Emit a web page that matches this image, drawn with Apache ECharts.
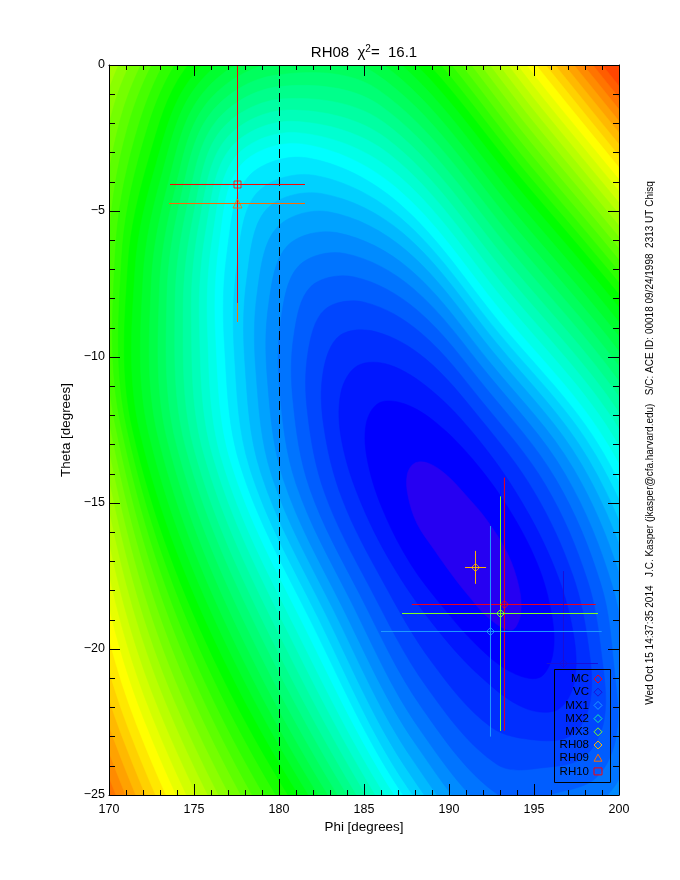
<!DOCTYPE html>
<html>
<head>
<meta charset="utf-8">
<title>RH08 chi2</title>
<script src="https://cdn.jsdelivr.net/npm/echarts@6/dist/echarts.min.js"></script>
<style>
  html, body { margin: 0; padding: 0; background: #fff; }
  #chart { width: 680px; height: 880px; }
</style>
</head>
<body>
<div id="chart"></div>
<script>
// fit estimates, degrees
var names    = ['MC', 'VC', 'MX1', 'MX2', 'MX3', 'RH08', 'RH09', 'RH10'];
var phi      = [193.26, 196.735, 192.44, 193.03, 193.03, 191.56, 177.559, 177.559];
var theta    = [-18.476, -20.497, -19.4, -18.784, -18.784, -17.209, -4.743, -4.092];
var phiLo    = [187.81, 195.75, 186.0, 187.24, 187.24, 190.94, 173.53, 173.59];
var phiHi    = [198.63, 198.76, 198.98, 198.76, 198.76, 192.18, 181.53, 181.53];
var thetaLo  = [-22.8, -20.65, -23.0, -22.8, -22.8, -17.77, -8.8, -8.15];
var thetaHi  = [-14.13, -17.33, -15.79, -14.78, -14.78, -16.64, -0.68, -0.03];
var colors   = ['#f00018', '#1a10d8', '#1f9cff', '#10eeb0', '#80ff20', '#ffb000', '#ff6a00', '#ff0000'];
var symbols  = ['diamond', 'diamond', 'diamond', 'diamond', 'diamond', 'diamond', 'triangle', 'rect'];

var aberrationPhi = [180.03, 180.03];
var aberrationTheta = [0, -25];

// chi^2 surface: contour levels read along 16 spokes round the long tilted valley.
var centerPhi = 190.47;
var centerTheta = -16.16;
var spokePhi   = [0.0296, 0.0345, 0.0342, 0.0286, 0.0187, 0.0059, -0.0077, -0.0202, -0.0296, -0.0345, -0.0342, -0.0286, -0.0187, -0.0059, 0.0077, 0.0202];
var spokeTheta = [-0.02959, -0.02491, -0.01644, -0.00548, 0.00634, 0.01718, 0.0254, 0.02977, 0.02959, 0.02491, 0.01644, 0.00548, -0.00634, -0.01718, -0.0254, -0.02977];

// one row per spoke, one column per contour level (inner to outer)
var contourRadii = [
  [108,163,200,229,254,278,299,319,338,356,373,389,410,436,461,487,513,538,564,590,616,641,667,690,710,730,750,770,790,810,830,850,870,890,910,930,950,970,990,1010,1030,1050],
  [108,163,200,227,251,272,293,311,329,346,362,378,397,420,443,466,489,513,536,559,582,605,628,650,669,688,707,726,745,764,783,802,821,840,860,879,898,917,936,955,974,993],
  [107,163,200,226,249,270,290,308,325,342,358,373,392,416,439,463,486,510,534,557,581,604,628,648,665,681,697,714,730,747,763,779,796,812,828,845,861,877,894,910,927,943],
  [104,165,202,238,268,296,321,345,367,388,407,426,447,472,496,521,545,570,594,619,643,667,692,713,731,749,766,784,802,820,838,855,873,891,909,927,944,962,980,998,1016,1033],
  [93,160,200,243,279,311,340,367,392,415,438,459,481,505,529,553,577,601,625,649,673,697,721,742,761,779,798,816,835,853,872,890,909,928,946,965,983,1002,1020,1039,1057,1076],
  [84,155,198,235,266,295,321,344,367,388,408,427,448,471,494,517,540,564,587,610,633,656,679,700,719,738,757,776,795,814,833,852,871,890,910,929,948,967,986,1005,1024,1043],
  [84,153,198,240,275,306,335,361,386,409,430,451,472,494,516,537,559,581,603,625,647,669,690,711,733,755,777,799,821,843,865,887,909,932,954,976,998,1020,1042,1064,1086,1108],
  [85,153,198,236,270,299,326,350,374,395,416,436,452,465,478,491,504,518,531,544,557,570,583,600,621,642,663,684,705,726,747,767,788,809,830,851,872,893,914,935,956,977],
  [85,155,198,233,263,290,314,337,358,379,398,416,430,440,450,460,470,480,490,500,510,520,530,541,553,565,577,589,601,613,625,637,649,661,673,685,697,709,721,733,745,757],
  [85,155,198,228,254,278,300,321,340,358,375,392,405,416,427,438,448,459,470,480,491,502,513,524,537,549,562,574,587,599,612,624,637,649,662,674,687,699,712,724,737,749],
  [84,153,198,229,257,282,305,326,346,365,383,400,415,429,443,457,471,485,499,512,526,540,554,566,577,588,599,610,621,632,642,653,664,675,686,697,708,719,730,741,752,763],
  [82,150,195,236,272,303,331,357,381,404,426,446,465,484,502,521,540,558,577,595,614,633,652,667,679,691,703,715,727,739,751,763,775,787,799,811,823,835,847,859,871,883],
  [71,146,190,235,274,307,337,365,390,414,437,459,481,505,528,552,576,599,623,647,671,694,718,742,766,791,815,839,864,888,912,937,961,985,1009,1034,1058,1082,1107,1131,1155,1179],
  [70,140,187,250,300,343,381,413,444,472,498,520,540,563,586,609,632,655,678,701,724,747,770,795,827,859,891,923,955,987,1019,1051,1083,1115,1147,1179,1211,1243,1275,1307,1339,1371],
  [77,145,190,256,307,352,391,427,460,490,519,547,578,613,649,684,720,755,791,826,862,897,932,966,998,1030,1061,1093,1125,1157,1189,1220,1252,1284,1316,1348,1380,1411,1443,1475,1507,1539],
  [94,155,197,234,265,294,320,343,366,387,407,426,451,483,516,548,580,613,645,677,709,742,774,802,826,849,873,896,920,944,967,991,1014,1038,1062,1085,1109,1132,1156,1180,1203,1227]
];

// colour inside each contour level, then the outermost band
var bandColors = [
  '#2600f2', '#0000ff', '#0017ff', '#002eff', '#0046ff', '#005dff', '#0074ff', '#008bff', '#00a2ff', '#00b9ff', '#00d1ff', '#00e8ff',
  '#00ffff', '#00ffe8', '#00ffd1', '#00ffb9', '#00ffa2', '#00ff8b', '#00ff74', '#00ff5d', '#00ff46', '#00ff2e', '#00ff17',
  '#00ff00', '#17ff00', '#2eff00', '#46ff00', '#5dff00', '#74ff00', '#8bff00', '#a2ff00', '#b9ff00', '#d1ff00', '#e8ff00',
  '#ffff00', '#ffe800', '#ffd100', '#ffb900', '#ffa200', '#ff8b00', '#ff7400', '#ff5d00', '#ff4600'
];

var stampText = 'Wed Oct 15 14:37:35 2014   J.C. Kasper (jkasper@cfa.harvard.edu)   S/C: ACE ID: 00018 09/24/1998  2313 UT Chisq';

var fontName = '"Liberation Sans", Arial, sans-serif';

var chart = echarts.init(document.getElementById('chart'), null, { renderer: 'canvas' });

function renderContour(params, api) {
  var k = api.value(0);
  var pts = [];
  for (var i = 0; i < spokePhi.length; i++) {
    var r = contourRadii[i][k];
    pts.push(api.coord([centerPhi + r * spokePhi[i], centerTheta + r * spokeTheta[i]]));
  }
  return {
    type: 'polygon',
    shape: { points: pts, smooth: 0.35 },
    style: { fill: bandColors[k], stroke: bandColors[k], lineWidth: 0.5 }
  };
}

var levelOrder = [];
for (var k = contourRadii[0].length - 1; k >= 0; k--) levelOrder.push([k]);

var series = [{
  type: 'custom',
  renderItem: renderContour,
  data: levelOrder,
  clip: true,
  silent: true,
  z: 1
}, {
  type: 'line',
  data: aberrationPhi.map(function (p, i) { return [p, aberrationTheta[i]]; }),
  symbol: 'none',
  silent: true,
  lineStyle: { color: '#000', width: 1, type: [9, 5] },
  z: 2
}];

names.forEach(function (name, i) {
  series.push({
    name: name,
    type: 'line',
    data: [[phiLo[i], theta[i]], [phiHi[i], theta[i]], '-', [phi[i], thetaLo[i]], [phi[i], thetaHi[i]]],
    symbol: 'none',
    silent: true,
    lineStyle: { color: colors[i], width: 1 },
    z: 3
  });
  series.push({
    name: name,
    type: 'scatter',
    data: [[phi[i], theta[i]]],
    symbol: symbols[i],
    symbolSize: symbols[i] === 'rect' ? 7 : (symbols[i] === 'triangle' ? 9 : 8),
    silent: true,
    itemStyle: { color: 'rgba(0,0,0,0)', borderColor: colors[i], borderWidth: 1 },
    z: 3
  });
});

// legend box, drawn by hand so the names right-align against the symbols
var legendTop = 679;
var legendStep = 13.2;
var legendItems = [{
  type: 'rect',
  shape: { x: 554.5, y: 669.5, width: 56, height: 113 },
  style: { fill: 'none', stroke: '#000', lineWidth: 1 },
  z: 10
}];
names.forEach(function (name, i) {
  var y = legendTop + i * legendStep;
  legendItems.push({
    type: 'text',
    style: { text: name, x: 589, y: y, align: 'right', verticalAlign: 'middle', fill: '#000', font: '11.5px ' + fontName },
    z: 10
  });
  var pts;
  if (symbols[i] === 'diamond') pts = [[598, y - 4], [602, y], [598, y + 4], [594, y]];
  else if (symbols[i] === 'triangle') pts = [[598, y - 4], [602, y + 3], [594, y + 3]];
  else pts = [[594, y - 3.5], [602, y - 3.5], [602, y + 3.5], [594, y + 3.5]];
  legendItems.push({
    type: 'polygon',
    shape: { points: pts },
    style: { fill: 'none', stroke: colors[i], lineWidth: 1 },
    z: 10
  });
});

var tickStyle = { color: '#000', width: 1 };

function xAxisBase() {
  return {
    type: 'value', min: 170, max: 200, interval: 5, z: 5,
    axisLine: { show: true, onZero: false, lineStyle: tickStyle },
    axisTick: { show: true, inside: true, length: 11, lineStyle: tickStyle },
    minorTick: { show: true, splitNumber: 5, length: 5, lineStyle: tickStyle },
    splitLine: { show: false }, minorSplitLine: { show: false }
  };
}
function yAxisBase() {
  return {
    type: 'value', min: -25, max: 0, interval: 5, z: 5,
    axisLine: { show: true, onZero: false, lineStyle: tickStyle },
    axisTick: { show: true, inside: true, length: 11, lineStyle: tickStyle },
    minorTick: { show: true, splitNumber: 5, length: 6, lineStyle: tickStyle },
    splitLine: { show: false }, minorSplitLine: { show: false }
  };
}

var xBottom = xAxisBase();
xBottom.position = 'bottom';
xBottom.name = 'Phi [degrees]';
xBottom.nameLocation = 'middle';
xBottom.nameGap = 22;
xBottom.nameTextStyle = { color: '#000', fontFamily: fontName, fontSize: 13.4 };
xBottom.axisLabel = { color: '#000', fontFamily: fontName, fontSize: 12.5, margin: 8 };

var xTop = xAxisBase();
xTop.position = 'top';
xTop.axisLabel = { show: false };

var yLeft = yAxisBase();
yLeft.position = 'left';
yLeft.name = 'Theta [degrees]';
yLeft.nameLocation = 'middle';
yLeft.nameGap = 32;
yLeft.nameTextStyle = { color: '#000', fontFamily: fontName, fontSize: 13.4 };
yLeft.axisLabel = {
  color: '#000', fontFamily: fontName, fontSize: 12.5, margin: 4, padding: [0, 0, 4, 0],
  formatter: function (v) { return String(v).replace('-', '\u2212'); }
};

var yRight = yAxisBase();
yRight.position = 'right';
yRight.axisLabel = { show: false };

chart.setOption({
  animation: false,
  backgroundColor: '#fff',
  title: {
    text: '{a|RH08  \u03c7}{s|2}{a|=  16.1}',
    left: 359,
    top: 39,
    textAlign: 'center',
    textStyle: {
      rich: {
        a: { fontFamily: fontName, fontWeight: 'normal', fontSize: 15, color: '#000', lineHeight: 18 },
        s: { fontFamily: fontName, fontWeight: 'normal', fontSize: 10, color: '#000', verticalAlign: 'top', lineHeight: 18 }
      }
    }
  },
  grid: { left: 109, right: 61, top: 65, bottom: 85, show: true, backgroundColor: bandColors[bandColors.length - 1], borderWidth: 0, z: 0 },
  xAxis: [xBottom, xTop],
  yAxis: [yLeft, yRight],
  series: series,
  graphic: legendItems.concat([{
    type: 'text',
    x: 650, y: 443,
    rotation: Math.PI / 2,
    style: { text: stampText, align: 'center', verticalAlign: 'middle', fill: '#000', font: '10px ' + fontName },
    z: 10
  }])
});
</script>
</body>
</html>
